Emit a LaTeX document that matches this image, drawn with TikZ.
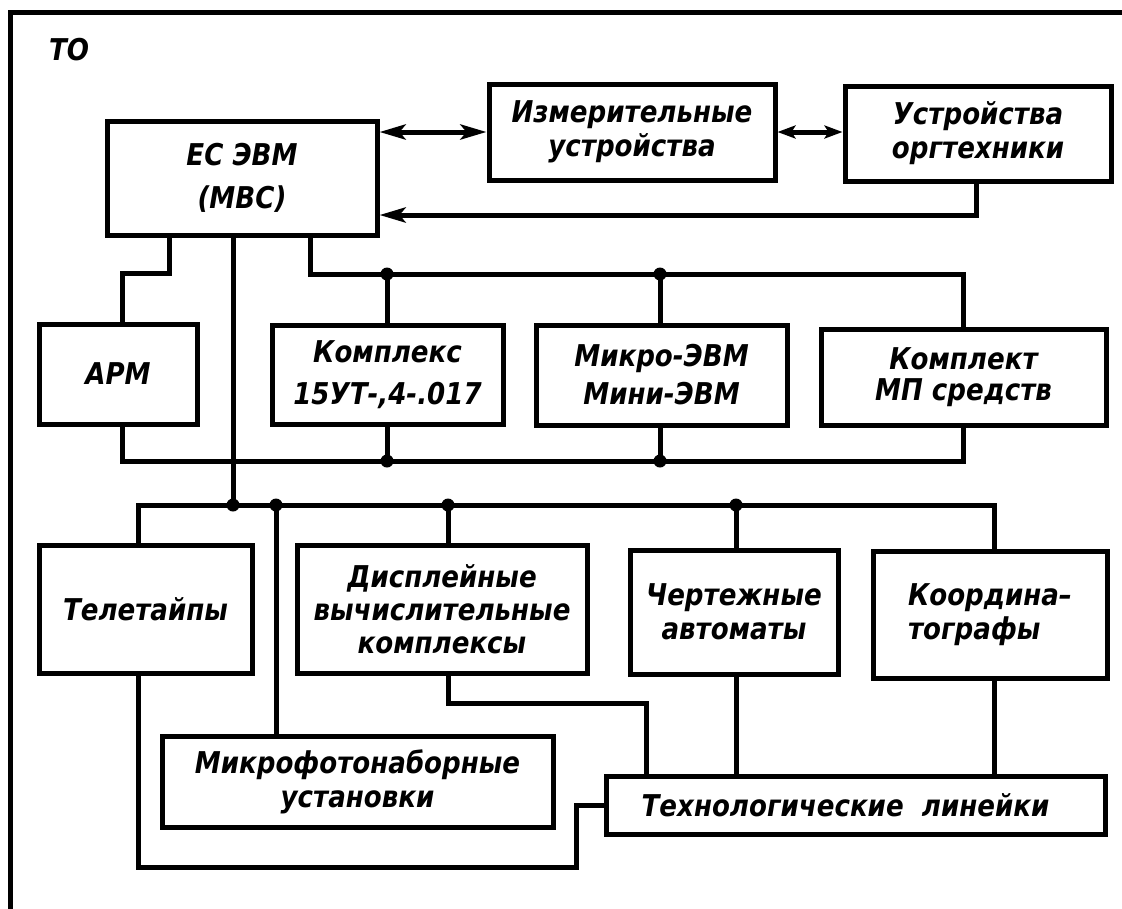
\documentclass[tikz,border=0pt]{standalone}
\usepackage{fontspec}
\setmainfont{DejaVu Sans}[FakeStretch=0.87]
\usetikzlibrary{arrows.meta}
\begin{document}
\begin{tikzpicture}[x=1pt,y=-1pt,
  wire/.style={line width=5pt, line join=miter},
  lbl/.style={font=\fontsize{30}{34}\selectfont\bfseries\itshape},
  block/.style={draw, line width=5pt, inner sep=0pt, align=center, lbl},
  junction/.style={circle, fill, inner sep=0pt, minimum size=13pt},
  bigtip/.tip={Stealth[length=26pt, width=15pt, inset=6pt]},
  smalltip/.tip={Stealth[length=18pt, width=13pt, inset=4pt]}
]
\useasboundingbox (0,0) rectangle (1122,908);

% frame
\coordinate (fr1) at (1140,12);
\coordinate (fr2) at (10,12);
\coordinate (fr3) at (10,930);
\draw[line width=5pt] (fr1) -- (fr2) -- (fr3);
\node[lbl] (to) at (69,50) {ТО};

% blocks
\node[block, minimum width=270pt, minimum height=114pt, font=\fontsize{30}{43}\selectfont\bfseries\itshape] (ec) at (242,178) {ЕС ЭВМ\\(МВС)};
\node[block, minimum width=286pt, minimum height=96pt] (izm) at (632,132) {Измерительные\\устройства};
\node[block, minimum width=266pt, minimum height=95pt] (ust) at (978,133.5) {Устройства\\оргтехники};

\node[block, minimum width=158pt, minimum height=100pt] (arm) at (118,374) {АРМ};
\node[block, minimum width=231pt, minimum height=99pt, font=\fontsize{30}{42}\selectfont\bfseries\itshape] (kompleks) at (387.5,374.5) {Комплекс\\15УТ-,4-.017};
\node[block, minimum width=251pt, minimum height=100pt, font=\fontsize{30}{38}\selectfont\bfseries\itshape] (mikro) at (661.5,375) {Микро-ЭВМ\\Мини-ЭВМ};
\node[block, minimum width=285pt, minimum height=96pt, font=\fontsize{30}{31}\selectfont\bfseries\itshape] (komplekt) at (963.5,377) {Комплект\\МП средств};

\node[block, minimum width=213pt, minimum height=128pt] (tele) at (145.5,609) {Телетайпы};
\node[block, minimum width=290pt, minimum height=128pt, font=\fontsize{30}{33}\selectfont\bfseries\itshape] (disp) at (442,609) {Дисплейные\\вычислительные\\комплексы};
\node[block, minimum width=208pt, minimum height=124pt] (chert) at (734,612) {Чертежные\\автоматы};
\node[block, minimum width=234pt, minimum height=127pt, align=left] (koord) at (990,614.5) {Координа–\\тографы};
\node[block, minimum width=391pt, minimum height=91pt] (mikrofoto) at (357.5,781.5) {Микрофотонаборные\\установки};
\node[block, minimum width=499pt, minimum height=58pt] (tehn) at (855.5,805.5) {Технологические\ \ линейки\hspace{20pt}};

% junction points
\node[junction] (jA) at (387,274) {};
\node[junction] (jB) at (660,274) {};
\node[junction] (jC) at (387,461) {};
\node[junction] (jD) at (660,461) {};
\node[junction] (jE) at (233,505) {};
\node[junction] (jF) at (276,505) {};
\node[junction] (jG) at (448,505) {};
\node[junction] (jH) at (736,505) {};

% data exchange with peripherals
\draw[wire, {bigtip}-{bigtip}] (ec.east |- izm.west) -- (izm.west);
\draw[wire, {smalltip}-{smalltip}] (izm.east) -- (ust.west |- izm.east);
\draw[wire, -{bigtip}] (976,0 |- ust.south) |- (ec.east |- 0,215);

% upper buses
\draw[wire] (169,0 |- ec.south) -- (169,273) -| (122,0 |- arm.north);
\draw[wire] (310,0 |- ec.south) |- (jA.center) -- (jB.center) -| (963,0 |- komplekt.north);
\draw[wire] (jA.center) -- (jA |- kompleks.north);
\draw[wire] (jB.center) -- (jB |- mikro.north);
\draw[wire] (122,0 |- arm.south) |- (jC.center) -- (jD.center) -| (963,0 |- komplekt.south);
\draw[wire] (jC.center) -- (jC |- kompleks.south);
\draw[wire] (jD.center) -- (jD |- mikro.south);

% lower bus
\draw[wire] (233,0 |- ec.south) -- (jE.center);
\draw[wire] (138,0 |- tele.north) |- (jE.center) -- (jH.center) -| (994,0 |- koord.north);
\draw[wire] (jF.center) -- (jF |- mikrofoto.north);
\draw[wire] (jG.center) -- (jG |- disp.north);
\draw[wire] (jH.center) -- (jH |- chert.north);

% links to the production lines
\draw[wire] (138,0 |- tele.south) |- (576,867) |- (tehn.west);
\draw[wire] (448,0 |- disp.south) |- (646,703) -- (646,0 |- tehn.north);
\draw[wire] (jH |- chert.south) -- (jH |- tehn.north);
\draw[wire] (994,0 |- koord.south) -- (994,0 |- tehn.north);
\end{tikzpicture}
\end{document}
